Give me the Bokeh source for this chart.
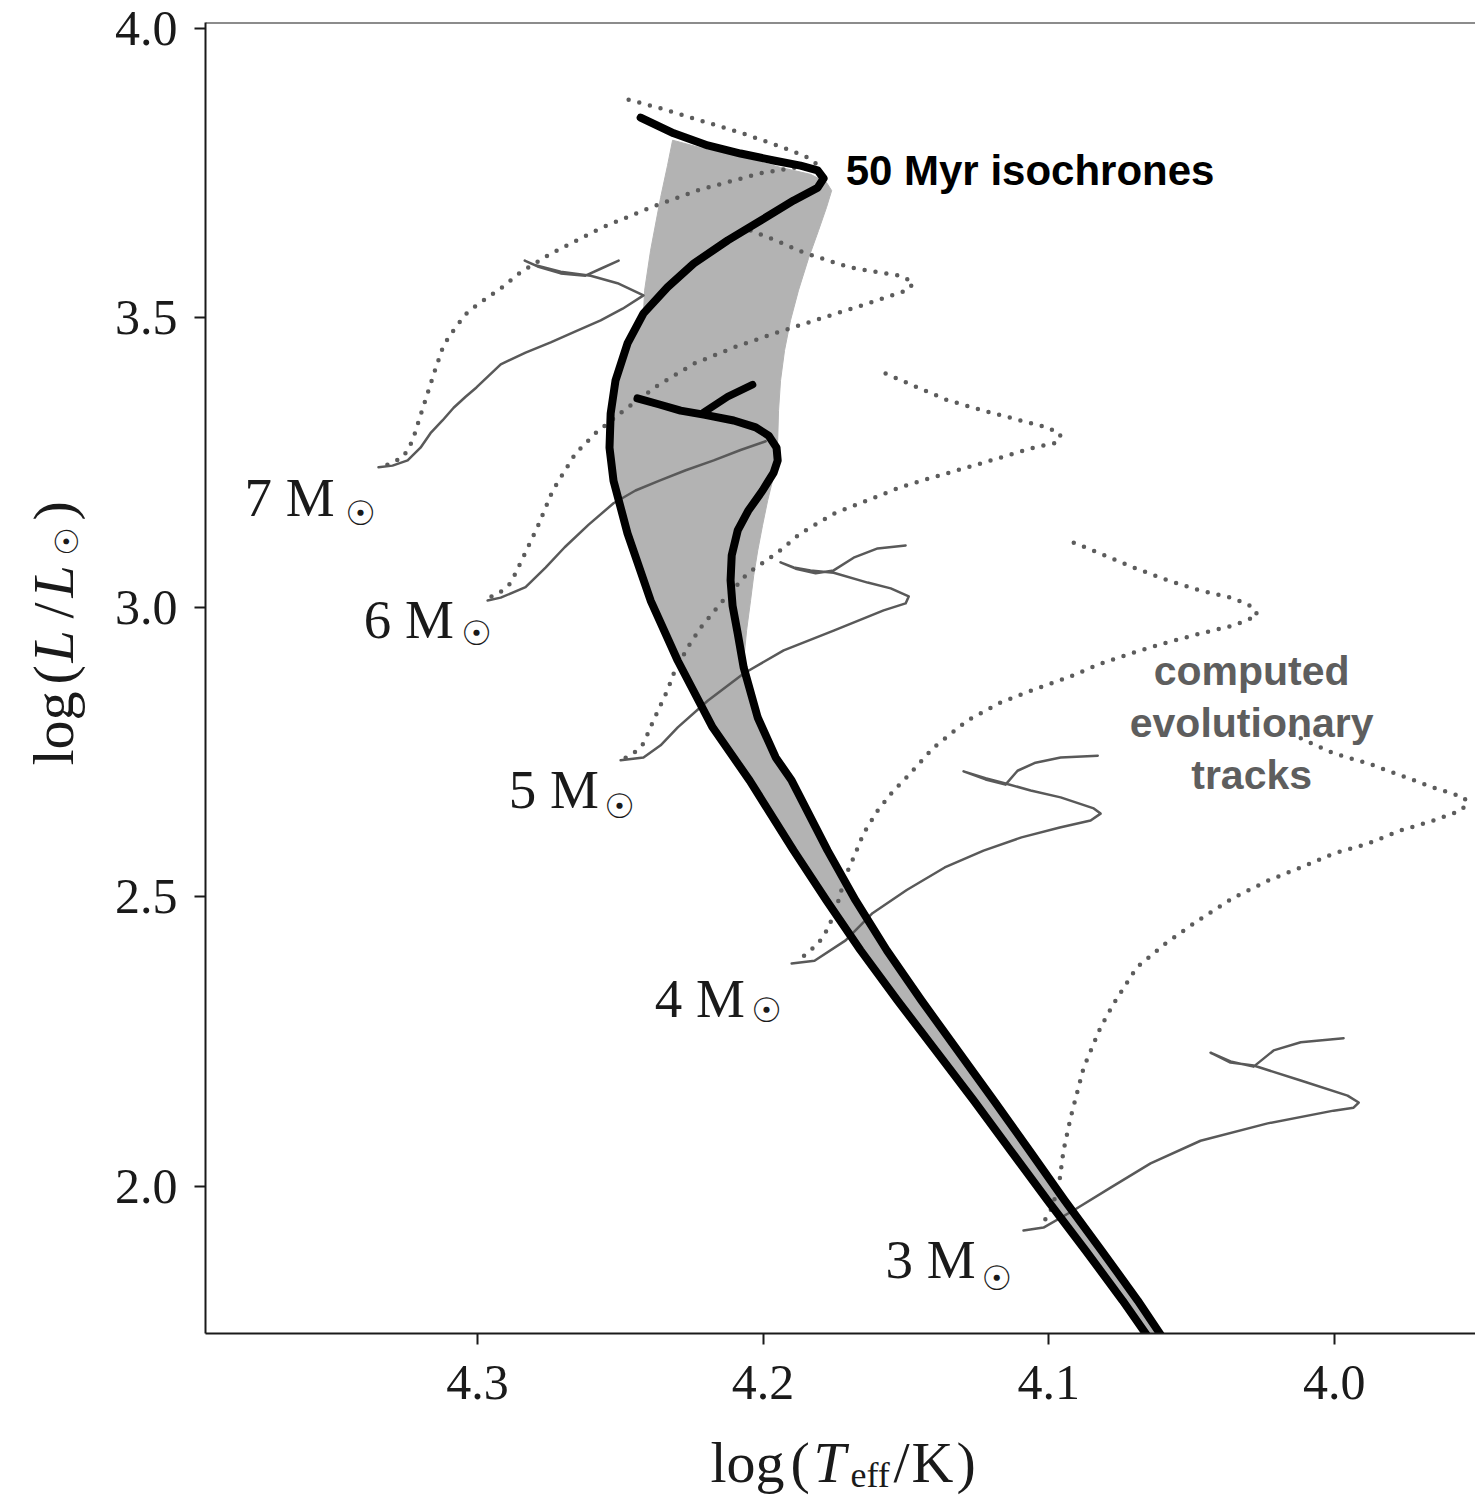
import numpy as np
from bokeh.plotting import figure
from bokeh.models import Range1d, FixedTicker, PrintfTickFormatter, Span, GridBox
from bokeh.embed import file_html
from bokeh.resources import INLINE
from bokeh.core.properties import value

# ---------------- data (log Teff, log L/Lsun) ----------------
iso_a_logT = [4.2429, 4.2313, 4.2194, 4.2079, 4.1963, 4.1869, 4.1809, 4.1788, 4.1809, 4.1893,
              4.2009, 4.2124, 4.2243, 4.2335, 4.2419, 4.2475, 4.2517, 4.2534, 4.2538, 4.2524,
              4.2475, 4.2394, 4.2299, 4.2177, 4.2047, 4.1893, 4.1778, 4.1659, 4.1529, 4.1396,
              4.1263, 4.1133, 4.1004, 4.0870, 4.0741, 4.0643]
iso_a_logL = [3.846, 3.819, 3.798, 3.784, 3.772, 3.763, 3.755, 3.741, 3.725, 3.703,
              3.668, 3.634, 3.594, 3.553, 3.508, 3.456, 3.392, 3.335, 3.276, 3.219,
              3.128, 3.012, 2.908, 2.793, 2.701, 2.580, 2.494, 2.408, 2.321, 2.235,
              2.149, 2.062, 1.976, 1.889, 1.803, 1.734]

iso_b_logT = [4.2440, 4.2366, 4.2289, 4.2208, 4.2103, 4.2026, 4.1981, 4.1953, 4.1949, 4.1963,
              4.2002, 4.2051, 4.2089, 4.2110, 4.2114, 4.2107, 4.2089, 4.2068, 4.2019, 4.1956,
              4.1900, 4.1774, 4.1676, 4.1567, 4.1445, 4.1319, 4.1193, 4.1067, 4.0944, 4.0814,
              4.0688, 4.0594]
iso_b_logL = [3.361, 3.351, 3.340, 3.333, 3.323, 3.311, 3.297, 3.276, 3.254, 3.233,
              3.202, 3.168, 3.133, 3.090, 3.047, 3.003, 2.955, 2.896, 2.810, 2.741,
              2.701, 2.580, 2.494, 2.408, 2.321, 2.235, 2.149, 2.062, 1.976, 1.889,
              1.803, 1.734]
iso_b_branch_logT = [4.2208, 4.2124, 4.2037]
iso_b_branch_logL = [3.337, 3.364, 3.385]

band_upper_logT = [4.2317, 4.2219, 4.2079, 4.1939, 4.1834, 4.1778, 4.1760, 4.1778, 4.1806, 4.1841,
                   4.1876, 4.1904, 4.1925, 4.1939, 4.1946, 4.1949, 4.1953, 4.1967, 4.1984, 4.2002,
                   4.2019, 4.2033, 4.2044, 4.2058, 4.2068]
band_upper_logL = [3.807, 3.794, 3.779, 3.760, 3.748, 3.734, 3.720, 3.691, 3.651, 3.603,
                   3.548, 3.496, 3.444, 3.392, 3.340, 3.288, 3.257, 3.219, 3.185, 3.142,
                   3.098, 3.055, 3.012, 2.960, 2.908]
band_left_logT = [4.2415, 4.2394, 4.2359, 4.2335]
band_left_logL = [3.548, 3.617, 3.708, 3.763]

track7_logT = [4.3347, 4.3298, 4.3245, 4.3200, 4.3165, 4.3123, 4.3084, 4.3042, 4.3004, 4.2919,
               4.2832, 4.2744, 4.2657, 4.2569, 4.2492, 4.2419, 4.2510, 4.2604, 4.2709, 4.2797,
               4.2835, 4.2790, 4.2709, 4.2622, 4.2569, 4.2506]
track7_logL = [3.242, 3.245, 3.254, 3.276, 3.301, 3.323, 3.345, 3.364, 3.380, 3.420,
               3.440, 3.458, 3.477, 3.496, 3.516, 3.539, 3.560, 3.573, 3.580, 3.591,
               3.599, 3.589, 3.577, 3.573, 3.585, 3.599]
track6_logT = [4.2965, 4.2919, 4.2832, 4.2762, 4.2695, 4.2611, 4.2524, 4.2447, 4.2363, 4.2271,
               4.2173, 4.2079, 4.1991]
track6_logL = [3.012, 3.017, 3.035, 3.069, 3.104, 3.143, 3.180, 3.202, 3.219, 3.237,
               3.254, 3.272, 3.287]
track5_logT = [4.2499, 4.2419, 4.2359, 4.2299, 4.2194, 4.2068, 4.1928, 4.1753, 4.1578, 4.1501,
               4.1490, 4.1553, 4.1634, 4.1753, 4.1834, 4.1893, 4.1939, 4.1886, 4.1816, 4.1753,
               4.1683, 4.1599, 4.1501]
track5_logL = [2.736, 2.741, 2.762, 2.793, 2.839, 2.886, 2.926, 2.960, 2.995, 3.007,
               3.019, 3.033, 3.043, 3.060, 3.064, 3.069, 3.078, 3.067, 3.059, 3.064,
               3.086, 3.102, 3.107]
track4_logT = [4.1900, 4.1820, 4.1711, 4.1617, 4.1497, 4.1364, 4.1228, 4.1095, 4.0961, 4.0853,
               4.0818, 4.0842, 4.0958, 4.1063, 4.1151, 4.1221, 4.1298, 4.1221, 4.1151, 4.1109,
               4.1046, 4.0958, 4.0828]
track4_logL = [2.385, 2.390, 2.425, 2.472, 2.512, 2.551, 2.580, 2.603, 2.620, 2.632,
               2.644, 2.653, 2.672, 2.684, 2.696, 2.705, 2.717, 2.703, 2.694, 2.718,
               2.732, 2.741, 2.744]
track3_logT = [4.1088, 4.1018, 4.0912, 4.0783, 4.0643, 4.0468, 4.0233, 4.0002, 3.9932, 3.9914,
               3.9953, 4.0117, 4.0282, 4.0363, 4.0433, 4.0363, 4.0282, 4.0212, 4.0117, 3.9967]
track3_logL = [1.924, 1.929, 1.959, 1.998, 2.040, 2.079, 2.109, 2.131, 2.136, 2.145,
               2.157, 2.183, 2.209, 2.214, 2.231, 2.216, 2.207, 2.235, 2.249, 2.256]

pms7_logT = [4.2471, 4.2359, 4.2219, 4.2079, 4.1939, 4.1851, 4.1816, 4.1886, 4.2009, 4.2114,
             4.2219, 4.2394, 4.2569, 4.2744, 4.2849, 4.2919, 4.2989, 4.3035, 4.3077, 4.3119,
             4.3147, 4.3175, 4.3200, 4.3228, 4.3259, 4.3301, 4.3340]
pms7_logL = [3.877, 3.862, 3.841, 3.820, 3.796, 3.779, 3.767, 3.760, 3.750, 3.736,
             3.722, 3.691, 3.655, 3.611, 3.579, 3.551, 3.527, 3.510, 3.484, 3.453,
             3.413, 3.370, 3.332, 3.288, 3.261, 3.249, 3.242]
pms6_logT = [4.2044, 4.1956, 4.1858, 4.1694, 4.1518, 4.1473, 4.1494, 4.1634, 4.1799, 4.1963,
             4.2103, 4.2243, 4.2370, 4.2489, 4.2587, 4.2657, 4.2737, 4.2790, 4.2846, 4.2884,
             4.2926, 4.2965]
pms6_logL = [3.651, 3.634, 3.613, 3.587, 3.573, 3.561, 3.548, 3.525, 3.499, 3.473,
             3.449, 3.421, 3.383, 3.340, 3.301, 3.266, 3.202, 3.139, 3.081, 3.042,
             3.024, 3.016]
pms5_logT = [4.1571, 4.1459, 4.1354, 4.1228, 4.1098, 4.1004, 4.0958, 4.0969, 4.1053, 4.1168,
             4.1284, 4.1403, 4.1518, 4.1634, 4.1753, 4.1869, 4.1949, 4.2054, 4.2149, 4.2219,
             4.2264, 4.2313, 4.2335, 4.2384, 4.2419, 4.2454, 4.2499]
pms5_logL = [3.404, 3.380, 3.358, 3.340, 3.323, 3.311, 3.299, 3.285, 3.276, 3.259,
             3.242, 3.225, 3.208, 3.185, 3.162, 3.128, 3.095, 3.059, 3.007, 2.965,
             2.931, 2.886, 2.857, 2.805, 2.765, 2.748, 2.736]
pms4_logT = [4.0912, 4.0818, 4.0702, 4.0583, 4.0468, 4.0352, 4.0282, 4.0268, 4.0352, 4.0468,
             4.0583, 4.0702, 4.0818, 4.0933, 4.1053, 4.1168, 4.1284, 4.1403, 4.1508, 4.1543,
             4.1599, 4.1648, 4.1683, 4.1711, 4.1739, 4.1771, 4.1806, 4.1848, 4.1886]
pms4_logL = [3.112, 3.093, 3.069, 3.047, 3.029, 3.016, 3.000, 2.986, 2.969, 2.955,
             2.940, 2.922, 2.903, 2.879, 2.858, 2.836, 2.805, 2.758, 2.701, 2.684,
             2.649, 2.610, 2.568, 2.537, 2.489, 2.447, 2.420, 2.402, 2.387]
pms3_logT = [4.0152, 4.0002, 3.9883, 3.9767, 3.9652, 3.9546, 3.9532, 3.9557, 3.9652, 3.9767,
             3.9883, 4.0002, 4.0117, 4.0233, 4.0352, 4.0478, 4.0590, 4.0692, 4.0772, 4.0818,
             4.0877, 4.0923, 4.0948, 4.0965, 4.0993, 4.1018]
pms3_logL = [2.782, 2.748, 2.731, 2.710, 2.689, 2.672, 2.662, 2.649, 2.632, 2.615,
             2.592, 2.575, 2.551, 2.528, 2.499, 2.459, 2.420, 2.378, 2.316, 2.275,
             2.206, 2.119, 2.062, 1.998, 1.959, 1.938]

mass_labels = ["7 M", "6 M", "5 M", "4 M", "3 M"]
x_ticks = [4.0, 4.1, 4.2, 4.3]
y_ticks = [2.0, 2.5, 3.0, 3.5, 4.0]

# label anchor positions (data coords, vertical middle of the text)
mass_label_x = [4.3816, 4.3399, 4.2891, 4.2380, 4.1571]
mass_label_y = [3.1900, 2.9793, 2.6857, 2.3247, 1.8739]
sun_x = [4.3410, 4.3004, 4.2503, 4.1988, 4.1182]
sun_y = [3.1624, 2.9551, 2.6563, 2.3040, 1.8428]

W, H = 1475, 1496
# ---------------- main figure ----------------
X0, X1 = 4.3953, 3.9505
Y0, Y1 = 1.7461, 4.0103
p = figure(width=W, height=H, output_backend="svg", toolbar_location=None,
           x_range=Range1d(X0, X1), y_range=Range1d(Y0, Y1),
           min_border_left=205, min_border_right=0, min_border_top=22, min_border_bottom=163)
p.frame_align = False
p.background_fill_color = "white"
p.border_fill_color = "white"
p.outline_line_color = None
p.grid.visible = False

for ax in (p.xaxis[0], p.yaxis[0]):
    ax.axis_line_width = 2
    ax.axis_line_color = "#1a1a1a"
    ax.major_tick_line_width = 2
    ax.major_tick_line_color = "#1a1a1a"
    ax.major_tick_out = 11
    ax.major_tick_in = 0
    ax.minor_tick_line_color = None
    ax.major_label_text_font = "Liberation Serif"
    ax.major_label_text_font_size = "50px"
    ax.major_label_text_color = "#1a1a1a"
    ax.formatter = PrintfTickFormatter(format="%.1f")
    ax.axis_label = None
p.xaxis[0].ticker = FixedTicker(ticks=x_ticks)
p.yaxis[0].ticker = FixedTicker(ticks=y_ticks)
p.xaxis[0].major_label_standoff = 21
p.yaxis[0].major_label_standoff = 17

p.add_layout(Span(location=Y1, dimension="width", line_color="#1a1a1a", line_width=2))

# gray band between the isochrones
band_x = (list(band_upper_logT) + list(iso_b_logT[18:]) +
          list(iso_a_logT[14:][::-1]) + list(band_left_logT))
band_y = (list(band_upper_logL) + list(iso_b_logL[18:]) +
          list(iso_a_logL[14:][::-1]) + list(band_left_logL))
p.patch(band_x, band_y, fill_color="#b3b3b3", line_color="#b3b3b3", line_width=1)

# pre-main-sequence tracks (dotted)
for tx, ty in [(pms7_logT, pms7_logL), (pms6_logT, pms6_logL), (pms5_logT, pms5_logL),
               (pms4_logT, pms4_logL), (pms3_logT, pms3_logL)]:
    p.line(tx, ty, line_color="#5c5c5c", line_width=4.5, line_dash="0 11",
           line_cap="round", line_join="round")

# evolutionary tracks (solid)
for tx, ty in [(track7_logT, track7_logL), (track6_logT, track6_logL), (track5_logT, track5_logL),
               (track4_logT, track4_logL), (track3_logT, track3_logL)]:
    p.line(tx, ty, line_color="#595959", line_width=2.5, line_join="round", line_cap="round")

# isochrones
p.line(iso_a_logT, iso_a_logL, line_color="black", line_width=8, line_join="round", line_cap="round")
p.line(iso_b_logT, iso_b_logL, line_color="black", line_width=8, line_join="round", line_cap="round")
p.line(iso_b_branch_logT, iso_b_branch_logL, line_color="black", line_width=7.5,
       line_join="round", line_cap="round")

# mass labels
p.text(x=mass_label_x, y=mass_label_y, text=mass_labels, text_font=value("Liberation Serif"),
       text_font_size="55px", text_color="#1a1a1a", text_align="left", text_baseline="middle")
p.text(x=sun_x, y=sun_y, text=["\u2609"] * 5, text_font=value("DejaVu Sans"),
       text_font_size="34px", text_color="#1a1a1a", text_align="center", text_baseline="middle")

# annotations
p.text(x=[4.1711], y=[3.7548], text=["50 Myr isochrones"], text_font=value("Liberation Sans"),
       text_font_style="bold", text_font_size="42px", text_color="black",
       text_align="left", text_baseline="middle")
p.text(x=[4.0289, 4.0289, 4.0289], y=[2.8895, 2.7997, 2.7099],
       text=["computed", "evolutionary", "tracks"], text_font=value("Liberation Sans"),
       text_font_style="bold", text_font_size="41px", text_color="#5e5e5e",
       text_align="center", text_baseline="middle")

# ---------------- transparent overlay for the axis titles ----------------
ov = figure(width=W, height=H, output_backend="svg", toolbar_location=None,
            x_range=Range1d(0, W), y_range=Range1d(0, H),
            x_axis_location=None, y_axis_location=None,
            min_border_left=0, min_border_right=0, min_border_top=0, min_border_bottom=0)
ov.frame_align = False
ov.background_fill_color = None
ov.border_fill_color = None
ov.outline_line_color = None
ov.grid.visible = False

# x title: log (T_eff / K)   (positions in canvas pixels: x, y of text middle)
ov.text(x=[710, 790, 893, 911, 956], y=[H - 1462] * 5, text=["log", "(", "/", "K", ")"],
        text_font=value("Liberation Serif"), text_font_size="58px", text_color="#1a1a1a",
        text_align="left", text_baseline="middle")
ov.text(x=[813], y=[H - 1462], text=["T"], text_font=value("Liberation Serif"),
        text_font_style="italic", text_font_size="58px", text_color="#1a1a1a",
        text_align="left", text_baseline="middle")
ov.text(x=[850], y=[H - 1474], text=["eff"], text_font=value("Liberation Serif"),
        text_font_size="36px", text_color="#1a1a1a", text_align="left", text_baseline="middle")

# y title: log (L / L_sun), rotated, reading bottom to top
ang = np.pi / 2
ov.text(x=[53, 53, 53, 53], y=[H - 765, H - 684, H - 618, H - 520], text=["log", "(", "/", ")"],
        angle=ang, text_font=value("Liberation Serif"), text_font_size="58px",
        text_color="#1a1a1a", text_align="left", text_baseline="middle")
ov.text(x=[53, 53], y=[H - 662, H - 597], text=["L", "L"], angle=ang,
        text_font=value("Liberation Serif"), text_font_style="italic", text_font_size="58px",
        text_color="#1a1a1a", text_align="left", text_baseline="middle")
ov.text(x=[66], y=[H - 541], text=["\u2609"], angle=ang, text_font=value("DejaVu Sans"),
        text_font_size="32px", text_color="#1a1a1a", text_align="center", text_baseline="middle")

layout = GridBox(children=[(p, 0, 0), (ov, 0, 0)])
open("out.html", "w").write(file_html(layout, INLINE))
